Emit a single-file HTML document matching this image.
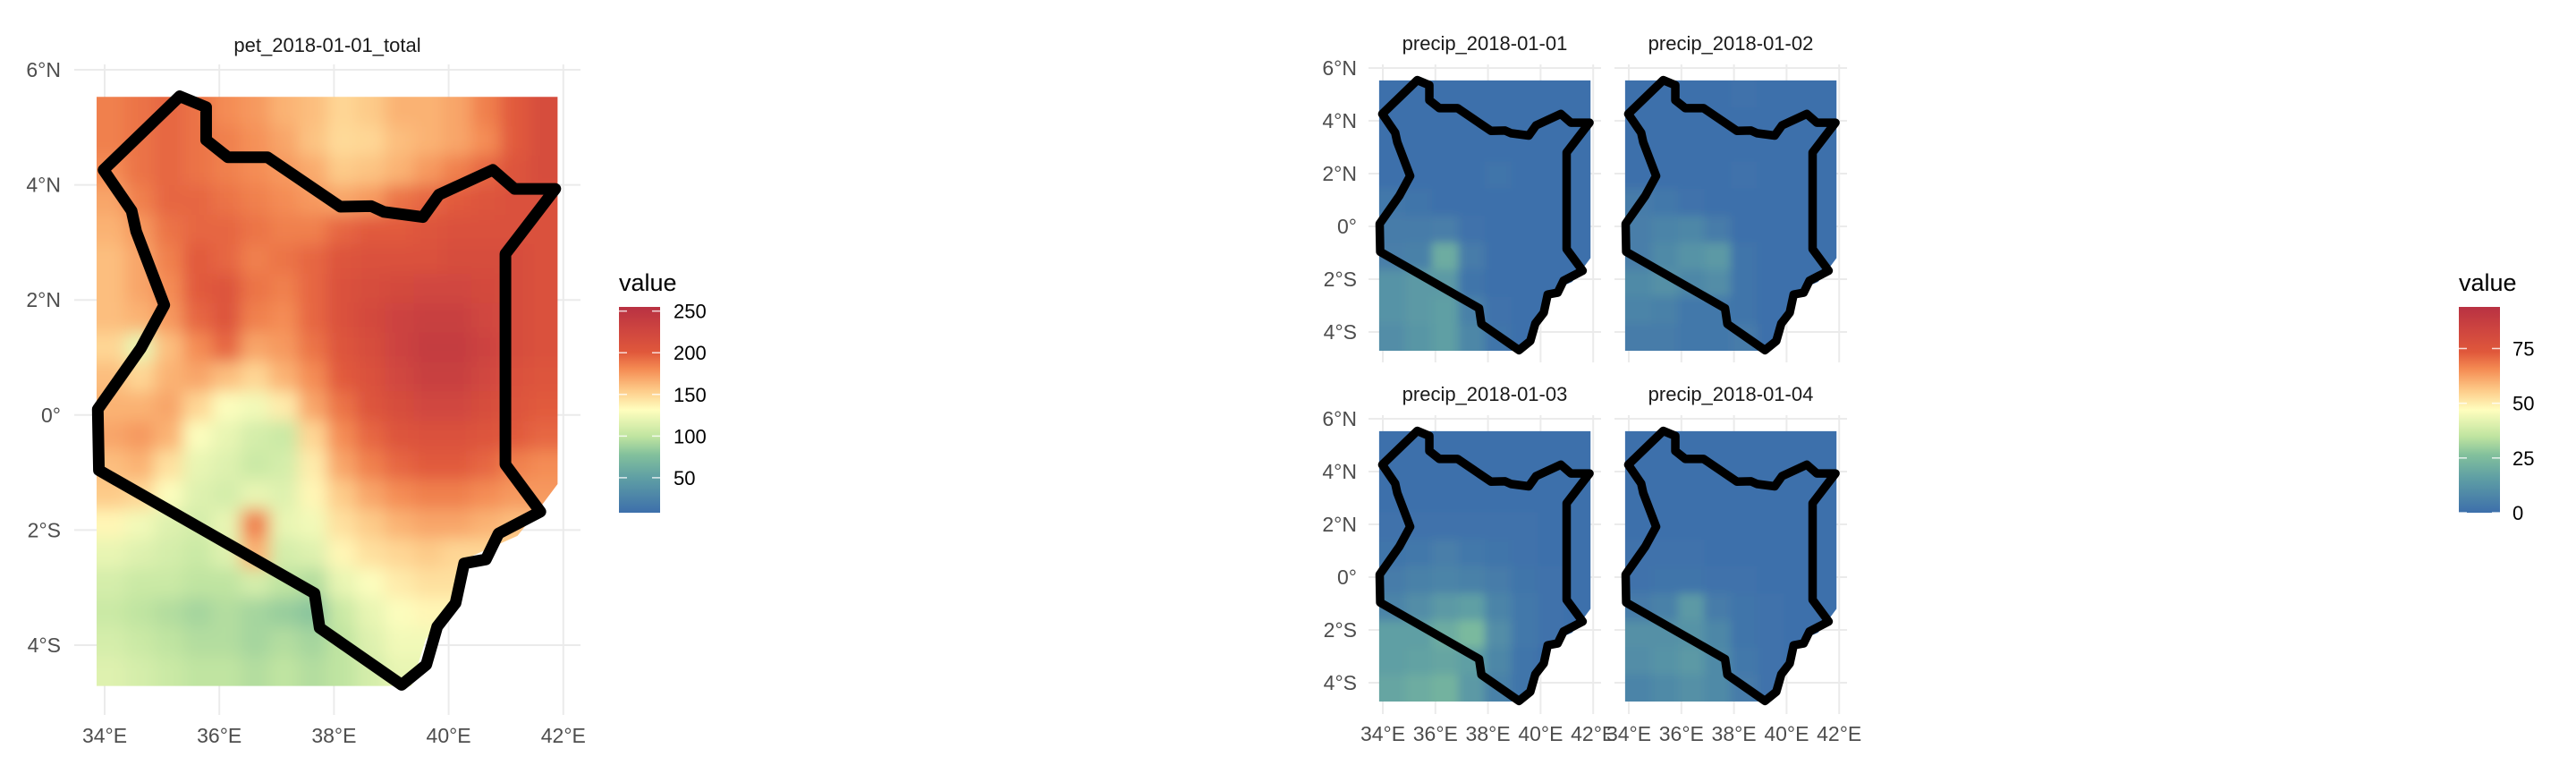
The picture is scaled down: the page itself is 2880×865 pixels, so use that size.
<!DOCTYPE html>
<html><head><meta charset="utf-8">
<style>
html,body{margin:0;padding:0;background:#fff;}
svg{display:block;font-family:"Liberation Sans",Arial,sans-serif;}
</style></head>
<body>
<svg id="chart" width="2880" height="865" viewBox="0 0 2880 865" xmlns="http://www.w3.org/2000/svg">
<defs>
  <filter id="blurL" x="-10%" y="-10%" width="120%" height="120%"><feGaussianBlur stdDeviation="9"/></filter>
  <filter id="blurR" x="-10%" y="-10%" width="120%" height="120%"><feGaussianBlur stdDeviation="5"/></filter>
  <linearGradient id="gradL" x1="0" y1="1" x2="0" y2="0"></linearGradient>
  <linearGradient id="gradR" x1="0" y1="1" x2="0" y2="0"></linearGradient>
</defs>
<g id="root"></g>
</svg>
<script>
// ---------- data ----------
const petTitle = "pet_2018-01-01_total";
const precipTitles = ["precip_2018-01-01","precip_2018-01-02","precip_2018-01-03","precip_2018-01-04"];
const lonTicks = [34,36,38,40,42];
const lonTickLabels = ["34°E","36°E","38°E","40°E","42°E"];
const latTicks = [6,4,2,0,-2,-4];
const latTickLabels = ["6°N","4°N","2°N","0°","2°S","4°S"];
const petLegendBreaks = [50,100,150,200,250];
const precipLegendBreaks = [0,25,50,75];
const petRange = [8,255];
const precipRange = [0,94];
const rasterLon = [33.86, 41.9];
const rasterLat = [-4.71, 5.53];
// PET grid: 20 rows (north->south) x 16 cols (west->east)
const petGrid = [
 [185,190,195,190,180,175,165,160,150,155,165,165,170,185,200,215],
 [185,190,195,190,185,178,170,158,148,150,160,165,170,180,200,215],
 [180,190,195,190,185,180,175,168,155,158,165,175,185,195,205,215],
 [170,185,195,195,190,185,180,175,170,175,190,195,200,205,210,210],
 [165,175,190,195,195,190,185,185,195,200,200,205,210,210,210,210],
 [160,170,185,200,195,185,190,195,205,210,210,210,215,215,215,210],
 [160,170,180,200,205,190,185,195,210,215,220,225,225,220,215,210],
 [160,165,175,195,205,185,180,195,210,220,230,235,235,225,215,210],
 [150,120,160,180,195,170,175,190,205,215,230,240,240,230,215,210],
 [160,150,165,170,160,150,165,180,200,210,225,235,235,225,210,205],
 [165,165,170,150,130,125,140,170,190,205,215,225,225,215,205,200],
 [170,175,165,130,120,110,105,150,180,195,205,210,210,205,200,195],
 [160,165,145,120,115,105,110,140,170,185,195,200,200,195,185,180],
 [155,150,130,115,110,120,115,135,155,170,180,185,185,180,175,175],
 [135,125,115,110,120,185,120,125,145,155,165,170,170,165,160,160],
 [120,115,110,105,115,165,110,115,135,145,150,155,150,150,150,150],
 [110,105,105,100,100,110,100,95,120,130,140,145,145,145,145,145],
 [105,100,95,90,95,90,85,80,105,120,130,135,135,135,135,135],
 [110,105,100,95,95,90,95,90,100,115,125,125,125,125,125,125],
 [115,110,105,100,100,95,100,95,100,110,120,120,120,120,120,120]
];
// precip grids: 10 rows x 8 cols each
const precipDay1 = [
 [0,0,0,0,0,0,0,0],[0,0,0,0,0,0,0,0],[0,0,0,0,0,0,0,0],
 [0,0,0,0,2,0,0,0],[3,2,0,0,0,0,0,0],[4,4,5,1,0,0,0,0],
 [5,6,20,4,0,0,0,0],[12,14,14,2,0,0,0,0],[12,14,16,6,1,0,0,0],[10,13,16,8,2,0,0,0]
];
const precipDay2 = [
 [0,0,0,0,1,0,0,0],[0,0,0,0,0,0,0,0],[0,0,0,0,0,0,0,0],
 [0,0,0,0,1,0,0,0],[4,3,1,0,0,0,0,0],[5,7,8,4,0,0,0,0],
 [5,9,12,14,2,0,0,0],[9,11,8,10,2,0,0,0],[7,6,3,3,2,0,0,0],[4,4,3,3,4,0,0,0]
];
const precipDay3 = [
 [0,0,0,0,0,0,0,0],[0,0,0,0,0,0,0,0],[0,0,0,0,0,0,0,0],
 [1,1,1,1,1,1,0,0],[2,3,5,3,2,1,0,0],[4,6,7,6,4,2,1,0],
 [7,10,14,16,7,3,1,0],[16,16,20,24,10,3,1,0],[16,17,18,16,8,2,0,0],[18,20,22,14,6,2,0,0]
];
const precipDay4 = [
 [0,0,0,0,0,0,0,0],[0,0,0,0,0,0,0,0],[0,0,0,0,0,0,0,0],
 [0,0,0,0,0,0,0,0],[1,1,1,0,0,0,0,0],[1,2,2,1,1,0,0,0],
 [4,6,14,4,2,1,0,0],[11,11,12,8,2,1,0,0],[10,12,14,9,3,1,0,0],[7,9,11,9,4,1,0,0]
];
const precipGrids = [precipDay1,precipDay2,precipDay3,precipDay4];
const borderLon = [35.31,35.77,35.77,36.15,36.84,38.11,38.65,38.87,39.55,39.83,40.77,41.15,41.86,40.99,40.99,41.60,40.87,40.65,40.27,40.12,39.80,39.61,39.18,37.75,37.66,33.90,33.88,34.63,35.04,34.55,34.47,33.98];
const borderLat = [5.54,5.35,4.78,4.48,4.48,3.62,3.63,3.53,3.44,3.83,4.26,3.93,3.93,2.80,-0.86,-1.68,-2.06,-2.51,-2.58,-3.27,-3.68,-4.34,-4.69,-3.70,-3.10,-0.96,0.10,1.16,1.91,3.19,3.55,4.26];
const extentLon = [33.86,41.9,41.9,41.6,41.2,40.3,40.1,39.6,39.35,33.86];
const extentLat = [5.53,5.53,-1.2,-1.6,-2.1,-2.5,-3.3,-3.9,-4.71,-4.71];

// ---------- colour scale ----------
const stopT = [0,0.17,0.28,0.37,0.5,0.6,0.7,0.78,0.9,1];
const stopC = ["#3d6fab","#5f9fa4","#82c09c","#bfe4a0","#fffebe","#fdc886","#f48a52","#e0583b","#cc4340","#b83142"];
function hex2rgb(h){return [1,3,5].map(i=>parseInt(h.substr(i,2),16));}
function colorAt(t){
  t=Math.max(0,Math.min(1,t));
  for(let i=0;i<stopT.length-1;i++){
    if(t<=stopT[i+1]){
      const f=(t-stopT[i])/(stopT[i+1]-stopT[i]);
      const a=hex2rgb(stopC[i]),b=hex2rgb(stopC[i+1]);
      return "rgb("+a.map((v,k)=>Math.round(v+(b[k]-v)*f)).join(",")+")";
    }
  }
  return stopC[stopC.length-1];
}
const NS="http://www.w3.org/2000/svg";
const root=document.getElementById('root');
function el(tag,attrs,parent){const e=document.createElementNS(NS,tag);for(const k in attrs)e.setAttribute(k,attrs[k]);(parent||root).appendChild(e);return e;}

function makeAxes(ox,oy,kx,ky){return {x:lon=>ox+(lon-34)*kx,y:lat=>oy+(6-lat)*ky};}
const leftAx = makeAxes(117,78,64.1,64.3);
const rightAx = [makeAxes(1546,76,29.4,29.5),makeAxes(1821,76,29.4,29.5),makeAxes(1546,468,29.4,29.5),makeAxes(1821,468,29.4,29.5)];

function drawPanel(ax,opts){
  const g=el('g',{});
  
  
  const gg=el('g',{stroke:'#ebebeb','stroke-width':2},g);
  
  
  lonTicks.forEach(v=>{el('line',{x1:ax.x(v),x2:ax.x(v),y1:opts.gTop,y2:opts.gBot},gg);});
  latTicks.forEach(v=>{el('line',{x1:opts.gLeft,x2:opts.gRight,y1:ax.y(v),y2:ax.y(v)},gg);});
  const cid='clip-'+opts.name;
  const cp=el('clipPath',{id:cid},g);
  el('polygon',{points:extentLon.map((v,i)=>ax.x(v)+','+ax.y(extentLat[i])).join(' ')},cp);
  const rc=el('g',{'clip-path':'url(#'+cid+')'},g);
  
  
  const rg=el('g',{filter:'url(#'+opts.blur+')'},rc);
  const grid=opts.grid,nr=grid.length,nc=grid[0].length;
  const dlon=(rasterLon[1]-rasterLon[0])/nc,dlat=(rasterLat[1]-rasterLat[0])/nr;
  for(let r=0;r<nr;r++)for(let c=0;c<nc;c++){
    let x0=ax.x(rasterLon[0]+c*dlon),x1=ax.x(rasterLon[0]+(c+1)*dlon);
    let y0=ax.y(rasterLat[1]-r*dlat),y1=ax.y(rasterLat[1]-(r+1)*dlat);
    if(c===0)x0-=40; if(c===nc-1)x1+=40; if(r===0)y0-=40; if(r===nr-1)y1+=40;
    const t=(grid[r][c]-opts.range[0])/(opts.range[1]-opts.range[0]);
    const cell=el('rect',{x:x0,y:y0,width:x1-x0+1,height:y1-y0+1,fill:colorAt(t)},rg);
    
    
  }
  const b=el('polygon',{points:borderLon.map((v,i)=>ax.x(v)+','+ax.y(borderLat[i])).join(' '),fill:'none',stroke:'#000','stroke-width':opts.sw,'stroke-linejoin':'round'},g);
  
  
  const tt=el('text',{x:(opts.gLeft+opts.gRight)/2,y:opts.titleY,'text-anchor':'middle','font-size':opts.titleFs,fill:'#1a1a1a'},g);
  tt.textContent=opts.title;
  
  
  if(opts.showY){latTicks.forEach((v,i)=>{
    const t=el('text',{x:opts.yLabX,y:ax.y(v)+8,'text-anchor':'end','font-size':23,fill:'#4d4d4d'},g);
    t.textContent=latTickLabels[i];
    
    
  });}
  if(opts.showX){lonTicks.forEach((v,i)=>{
    const t=el('text',{x:ax.x(v),y:opts.xLabY,'text-anchor':'middle','font-size':23,fill:'#4d4d4d'},g);
    t.textContent=lonTickLabels[i];
    
    
  });}
}

drawPanel(leftAx,{name:'pet-panel',grid:petGrid,range:petRange,blur:'blurL',sw:13,gTop:72,gBot:799,gLeft:83,gRight:649,title:petTitle,titleY:58,titleFs:22,showY:true,showX:true,yLabX:68,xLabY:830});
rightAx.forEach((ax,i)=>{
  const row=Math.floor(i/2),col=i%2;
  drawPanel(ax,{name:'precip-panel-'+(i+1),grid:precipGrids[i],range:precipRange,blur:'blurR',sw:9.5,
    gTop:72+row*392,gBot:405+row*393,gLeft:1530+col*275,gRight:1790+col*275,
    title:precipTitles[i],titleY:56+row*392,titleFs:22,showY:col===0,showX:row===1,yLabX:1517,xLabY:828});
});

function drawLegend(gradId,x,top,bot,range,breaks,lx,name){
  const gr=document.getElementById(gradId);
  stopT.forEach((t,i)=>{el('stop',{offset:t,'stop-color':stopC[i]},gr);});
  const g=el('g',{});
  
  
  const tl=el('text',{x:x,y:top-18,'font-size':27,fill:'#000'},g);
  tl.textContent='value';
  
  
  const bar=el('rect',{x:x,y:top,width:46,height:bot-top,fill:'url(#'+gradId+')'},g);
  
  
  const ly=v=>bot-(v-range[0])/(range[1]-range[0])*(bot-top);
  breaks.forEach(v=>{
    const y=ly(v);
    el('line',{x1:x,x2:x+9,y1:y,y2:y,stroke:'#fff','stroke-width':1.5,opacity:0.8},g);
    el('line',{x1:x+37,x2:x+46,y1:y,y2:y,stroke:'#fff','stroke-width':1.5,opacity:0.8},g);
    const t=el('text',{x:lx,y:y+8,'font-size':22,fill:'#000'},g);
    t.textContent=String(v);
    
    
  });
}
drawLegend('gradL',692,343,573,petRange,petLegendBreaks,753,'pet-legend');
drawLegend('gradR',2749,343,573,precipRange,precipLegendBreaks,2809,'precip-legend');
</script>
</body></html>
